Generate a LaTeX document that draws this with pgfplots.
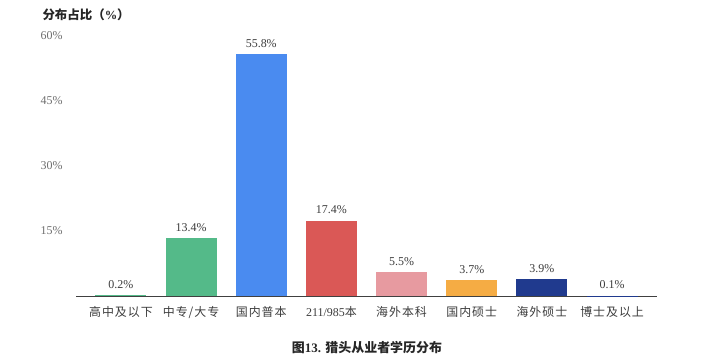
\documentclass[border=0pt]{standalone}
\usepackage{fontspec}
\setmainfont{Liberation Serif}
\newfontfamily\cjk[LetterSpace=8]{Noto Sans CJK SC}
\newfontfamily\cjkt{Noto Sans CJK SC}
\usepackage{pgfplots}
\pgfplotsset{compat=1.18}
\definecolor{cgreen}{RGB}{84,186,137}
\definecolor{cblue}{RGB}{74,139,240}
\definecolor{cred}{RGB}{218,88,86}
\definecolor{cpink}{RGB}{231,154,160}
\definecolor{corange}{RGB}{245,172,68}
\definecolor{cnavy}{RGB}{32,58,142}
\definecolor{tickgray}{RGB}{110,110,110}
\definecolor{labgray}{RGB}{60,60,60}
\begin{document}
\begin{tikzpicture}[x=1bp,y=1bp]
\path[use as bounding box] (0,0) rectangle (718,362);
\begin{axis}[
  at={(76bp,66bp)}, anchor=south west,
  scale only axis, width=581bp, height=260bp,
  ybar, bar width=51bp, bar shift=0pt,
  xmin=-0.64, xmax=7.64, ymin=0, ymax=60,
  axis x line*=bottom, axis y line*=left,
  y axis line style={draw=none},
  x axis line style={draw=black!75, line width=0.8pt, -},
  major tick length=0pt,
  ytick={15,30,45,60},
  yticklabel={\pgfmathprintnumber{\tick}\%},
  /pgf/number format/assume math mode=true,
  yticklabel style={font=\fontsize{12}{14}\selectfont, text=tickgray, xshift=-10bp},
  xtick={0,1,2,3,4,5,6,7},
  xticklabels={{\cjk 高中及以下},{\cjk 中专/大专},{\cjk 国内普本},{211/985{\cjk 本}},{\cjk 海外本科},{\cjk 国内硕士},{\cjk 海外硕士},{\cjk 博士及以上}},
  xticklabel style={font=\fontsize{12}{14}\selectfont, text=labgray, yshift=-7bp},
  nodes near coords={\pgfmathprintnumber[fixed,fixed zerofill,precision=1]{\pgfplotspointmeta}\%},
  every node near coord/.append style={font=\fontsize{12}{14}\selectfont, text=labgray, yshift=3bp},
  clip=false,
]
\addplot[fill=cgreen, draw=none] coordinates {(0,0.2)};
\addplot[fill=cgreen, draw=none] coordinates {(1,13.4)};
\addplot[fill=cblue, draw=none] coordinates {(2,55.8)};
\addplot[fill=cred, draw=none] coordinates {(3,17.4)};
\addplot[fill=cpink, draw=none] coordinates {(4,5.5)};
\addplot[fill=corange, draw=none] coordinates {(5,3.7)};
\addplot[fill=cnavy, draw=none] coordinates {(6,3.9)};
\addplot[fill=cnavy, draw=none] coordinates {(7,0.1)};
\end{axis}
\node[anchor=west, font=\fontsize{12.5}{14}\selectfont\bfseries, text=black!85] at (39,347) {{\cjkt 分布占比（}\%{\cjkt ）}};
\node[font=\fontsize{13}{15}\selectfont\bfseries, text=black!85] at (367,14) {{\cjkt 图}13. {\cjkt 猎头从业者学历分布}};
\end{tikzpicture}
\end{document}
